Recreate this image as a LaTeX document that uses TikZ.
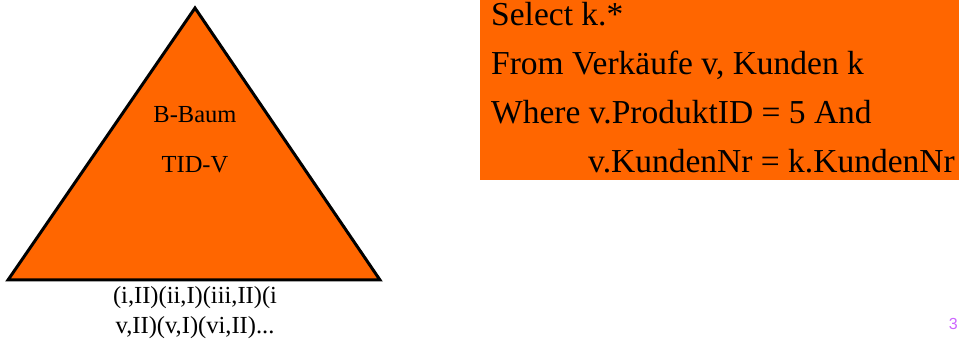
\documentclass[tikz,border=0pt]{standalone}
\usepackage{fontspec}
\setmainfont{Liberation Serif}
\setsansfont{Liberation Sans}
\definecolor{orng}{RGB}{255,102,0}
\definecolor{pagenum}{RGB}{204,102,255}
\begin{document}
\begin{tikzpicture}[x=1pt,y=-1pt,
  tritext/.style={anchor=base,inner sep=0pt,font=\fontsize{24.5}{29}\selectfont},
  sqltext/.style={anchor=base west,inner sep=0pt,font=\fontsize{33.5}{39}\selectfont}]
\useasboundingbox (0,0) rectangle (959,339);
% triangle
\coordinate (apex) at (195,8);
\coordinate (bl) at (8,280);
\coordinate (br) at (380,280);
\filldraw[fill=orng,draw=black,line width=3pt,line join=miter] (apex) -- (br) -- (bl) -- cycle;
\node[tritext] (bbaum) at (195,123) {B-Baum};
\node[tritext] (tidv) at (195,173) {TID-V};
\node[tritext] (list1) at (195,303) {(i,II)(ii,I)(iii,II)(i};
\node[tritext] (list2) at (195,333) {v,II)(v,I)(vi,II)...};
% SQL box
\fill[orng] (480,0) rectangle (959,180);
\node[sqltext] (l1) at (491,26) {Select k.*};
\node[sqltext] (l2) at (491,75) {From Verkäufe v, Kunden k};
\node[sqltext] (l3) at (491,124) {Where v.ProduktID = 5 And};
\node[sqltext] (l4) at (588,173) {v.KundenNr = k.KundenNr};
% page number
\node[anchor=base east,inner sep=0pt,text=pagenum,font=\sffamily\fontsize{16}{19}\selectfont] (pn) at (958,330) {3};
\end{tikzpicture}
\end{document}
